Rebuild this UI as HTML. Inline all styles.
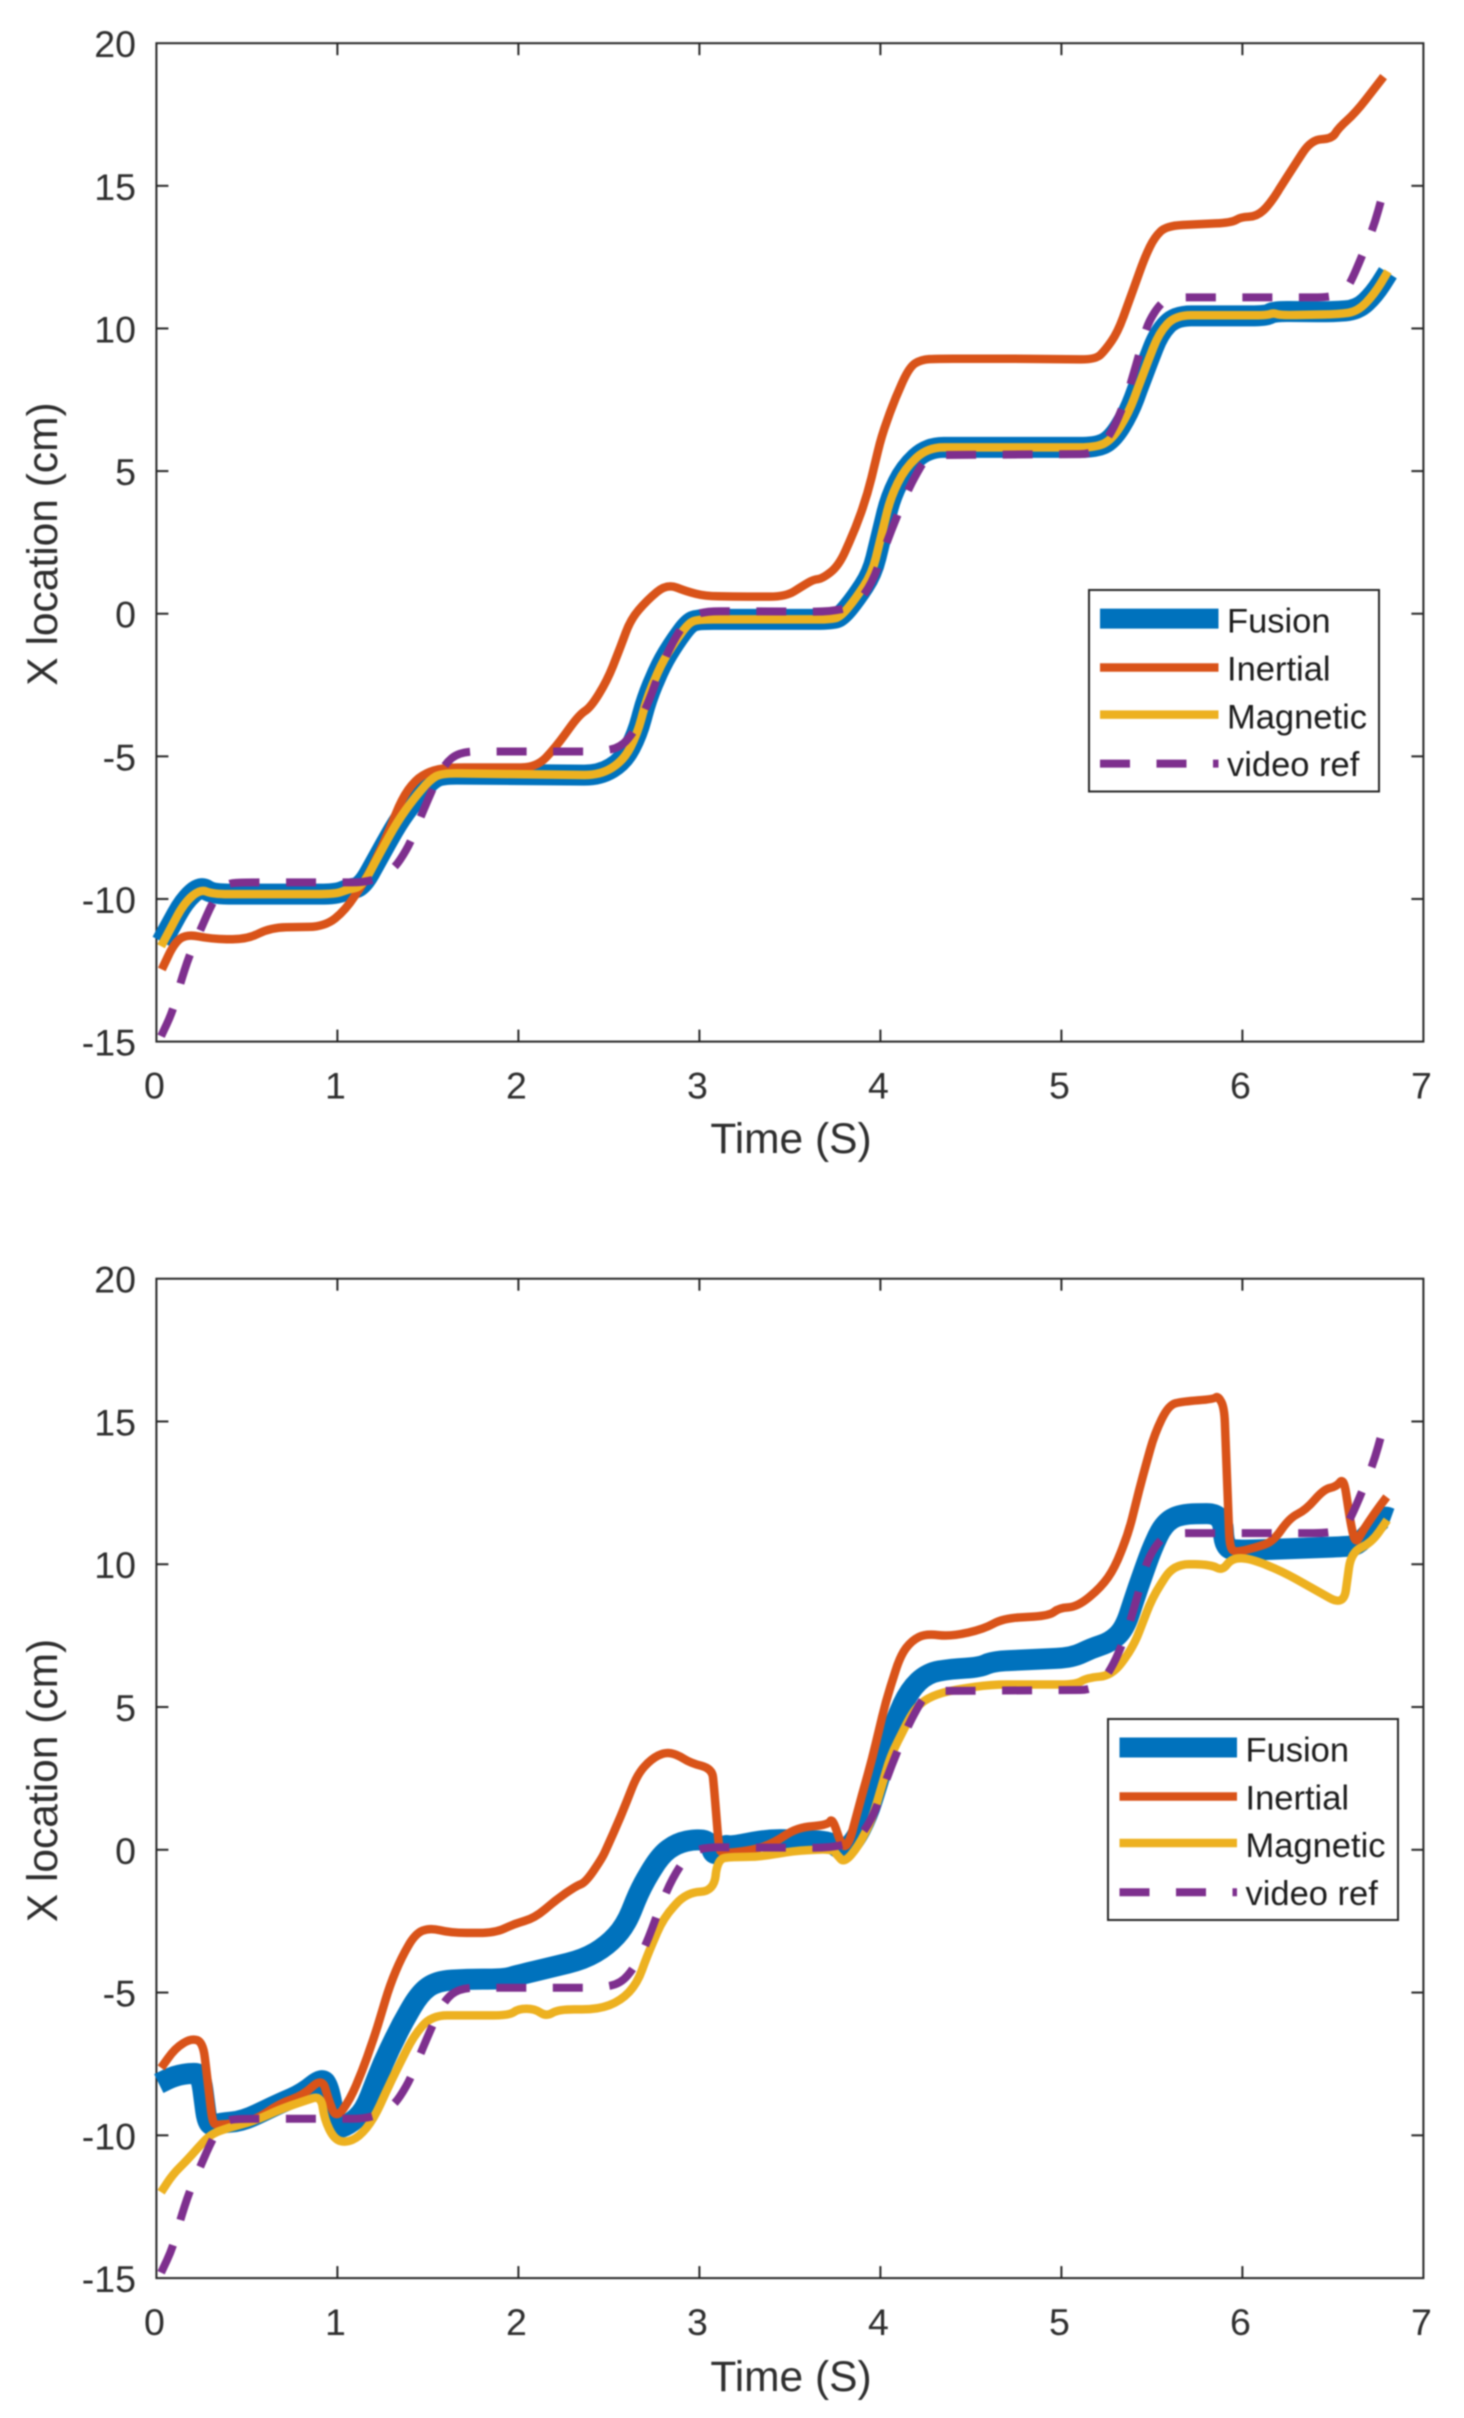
<!DOCTYPE html>
<html lang="en">
<head>
<meta charset="utf-8">
<title>X location over time: fusion, inertial, magnetic and video reference</title>
<style>
  html, body { margin: 0; padding: 0; background: #fff; }
  body { width: 1464px; height: 2418px; overflow: hidden; }
  svg { display: block; filter: blur(0.7px); }
  text { font-family: "Liberation Sans", Arial, sans-serif; fill: #2e2e2e; }
  .leg { font-size: 34.5px; fill: #1c1c1c; }
  .axis-title { font-size: 42.5px; }
  .tick-label { font-size: 37.5px; }
</style>
</head>
<body>
<svg id="figure" xmlns="http://www.w3.org/2000/svg" width="1464" height="2418" viewBox="0 0 1464 2418">
  <rect x="0" y="0" width="1464" height="2418" fill="#ffffff"/>

  <g id="plot-top">
    <g id="plot-top-axes"></g>
    <g id="plot-top-lines"></g>
    <text class="axis-title" x="791" y="1153" text-anchor="middle">Time (S)</text>
    <text class="axis-title" transform="translate(57,544) rotate(-90)" text-anchor="middle">X location (cm)</text>
    <g>
      <rect x="1089" y="590" width="290" height="201.5" fill="#ffffff" stroke="#262626" stroke-width="2"/>
      <line x1="1100" y1="618.6" x2="1218.5" y2="618.6" stroke="#0072BD" stroke-width="20"/>
      <text class="leg" x="1227" y="632.5">Fusion</text>
      <line x1="1100" y1="667.5" x2="1218.5" y2="667.5" stroke="#D95319" stroke-width="8.5"/>
      <text class="leg" x="1227" y="680.5">Inertial</text>
      <line x1="1100" y1="714.6" x2="1218.5" y2="714.6" stroke="#EDB120" stroke-width="8.5"/>
      <text class="leg" x="1227" y="728.5">Magnetic</text>
      <line x1="1100" y1="763.6" x2="1218.5" y2="763.6" stroke="#7E2F8E" stroke-width="8" stroke-dasharray="30 26.5"/>
      <text class="leg" x="1227" y="776.2">video ref</text>
    </g>
  </g>

  <g id="plot-bottom">
    <g id="plot-bottom-axes"></g>
    <g id="plot-bottom-lines"></g>
    <text class="axis-title" x="791" y="2391" text-anchor="middle">Time (S)</text>
    <text class="axis-title" transform="translate(57,1780.5) rotate(-90)" text-anchor="middle">X location (cm)</text>
    <g>
      <rect x="1108" y="1719" width="290" height="201" fill="#ffffff" stroke="#262626" stroke-width="2"/>
      <line x1="1119.5" y1="1747.5" x2="1237" y2="1747.5" stroke="#0072BD" stroke-width="20"/>
      <text class="leg" x="1245.5" y="1761.5">Fusion</text>
      <line x1="1119.5" y1="1796.5" x2="1237" y2="1796.5" stroke="#D95319" stroke-width="8.5"/>
      <text class="leg" x="1245.5" y="1809.5">Inertial</text>
      <line x1="1119.5" y1="1843" x2="1237" y2="1843" stroke="#EDB120" stroke-width="8.5"/>
      <text class="leg" x="1245.5" y="1857">Magnetic</text>
      <line x1="1119.5" y1="1892.2" x2="1237" y2="1892.2" stroke="#7E2F8E" stroke-width="8" stroke-dasharray="30 26.5"/>
      <text class="leg" x="1245.5" y="1905">video ref</text>
    </g>
  </g>
</svg>

<script>
// Tick labels (data units)
const xTicks = [0, 1, 2, 3, 4, 5, 6, 7];
const yTicks = [-15, -10, -5, 0, 5, 10, 15, 20];

// Video reference, [time s, x cm], shared by both plots
const videoRef = [[0.026,-14.81],[0.09,-13.94],[0.13,-13.0],[0.18,-12.0],[0.245,-11.06],[0.31,-10.12],[0.374,-9.45],[0.5,-9.42],[1.17,-9.42],[1.3,-9.07],[1.393,-8.18],[1.444,-7.37],[1.51,-6.37],[1.586,-5.3],[1.677,-4.83],[2.45,-4.83],[2.566,-4.69],[2.644,-4.09],[2.708,-3.28],[2.786,-1.94],[2.85,-1.0],[2.94,-0.13],[3.03,0.09],[3.72,0.07],[3.864,0.27],[3.954,1.07],[4.057,2.88],[4.135,4.09],[4.186,4.76],[4.26,5.56],[5.19,5.6],[5.28,6.37],[5.36,7.57],[5.437,9.25],[5.476,10.19],[5.553,10.93],[5.618,11.09],[6.48,11.09],[6.56,11.26],[6.597,11.6],[6.66,12.53],[6.727,13.6],[6.78,14.81],[6.79,14.95]];

// Top plot series, [time s, x cm]
const topFusion = [[0.03,-11.5],[0.155,-10.05],[0.245,-9.55],[0.31,-9.83],[0.993,-9.83],[1.06,-9.65],[1.135,-9.58],[1.225,-8.55],[1.33,-7.35],[1.42,-6.55],[1.51,-5.85],[1.575,-5.62],[2.45,-5.66],[2.58,-5.16],[2.657,-4.22],[2.708,-3.0],[2.786,-1.8],[2.863,-1.0],[2.94,-0.33],[2.99,-0.2],[3.735,-0.2],[3.786,-0.07],[3.864,0.54],[3.954,1.41],[4.057,4.09],[4.135,5.09],[4.26,5.83],[5.19,5.83],[5.28,6.1],[5.372,7.04],[5.45,8.38],[5.54,9.85],[5.63,10.44],[6.134,10.44],[6.172,10.6],[6.5,10.58],[6.637,10.65],[6.727,11.19],[6.804,11.95]];
const topInertial = [[0.03,-12.47],[0.1,-11.53],[0.17,-11.23],[0.3,-11.4],[0.5,-11.42],[0.63,-11.0],[0.93,-10.97],[1.045,-10.39],[1.17,-9.18],[1.28,-7.7],[1.355,-6.5],[1.43,-5.83],[1.51,-5.52],[1.61,-5.39],[2.1,-5.39],[2.205,-4.69],[2.335,-3.55],[2.4,-3.28],[2.49,-2.35],[2.566,-1.14],[2.62,-0.2],[2.71,0.47],[2.82,1.05],[2.93,0.78],[3.03,0.62],[3.18,0.6],[3.477,0.6],[3.57,0.97],[3.63,1.2],[3.68,1.23],[3.77,1.68],[3.864,3.02],[3.93,4.22],[4.006,6.23],[4.083,7.57],[4.16,8.65],[4.225,8.91],[4.315,8.94],[4.73,8.94],[5.19,8.91],[5.243,9.25],[5.31,9.85],[5.372,10.93],[5.463,12.53],[5.515,13.2],[5.58,13.6],[5.94,13.71],[5.99,13.9],[6.08,13.93],[6.15,14.34],[6.25,15.35],[6.38,16.62],[6.495,16.65],[6.53,17.02],[6.625,17.56],[6.78,18.83]];
const topMagnetic = [[0.026,-11.66],[0.155,-10.12],[0.245,-9.65],[0.31,-9.83],[0.993,-9.83],[1.06,-9.65],[1.135,-9.58],[1.225,-8.51],[1.33,-7.3],[1.42,-6.5],[1.51,-5.83],[1.575,-5.59],[2.45,-5.66],[2.58,-5.16],[2.657,-4.22],[2.708,-3.0],[2.786,-1.8],[2.863,-1.0],[2.94,-0.33],[2.99,-0.2],[3.735,-0.2],[3.786,-0.07],[3.864,0.54],[3.954,1.41],[4.057,4.09],[4.135,5.09],[4.26,5.83],[5.19,5.83],[5.28,6.1],[5.372,7.04],[5.45,8.38],[5.54,9.85],[5.63,10.46],[6.134,10.46],[6.172,10.55],[6.21,10.46],[6.533,10.5],[6.637,10.6],[6.727,11.19],[6.804,12.0]];

// Bottom plot series, [time s, x cm]
const bottomFusion = [[0.013,-8.19],[0.103,-7.91],[0.193,-7.82],[0.245,-7.85],[0.284,-9.71],[0.35,-9.57],[0.477,-9.5],[0.683,-8.88],[0.81,-8.53],[0.916,-7.98],[0.954,-8.33],[0.993,-9.78],[1.06,-9.64],[1.148,-9.16],[1.25,-7.5],[1.354,-6.12],[1.457,-5.01],[1.548,-4.6],[1.715,-4.53],[1.92,-4.53],[2.0,-4.39],[2.36,-3.84],[2.49,-3.36],[2.59,-2.67],[2.68,-1.28],[2.786,-0.18],[2.876,0.23],[2.98,0.37],[3.056,0.3],[3.08,-0.25],[3.134,0.17],[3.18,0.12],[3.385,0.37],[3.725,0.3],[3.786,-0.04],[3.85,0.23],[3.93,1.2],[4.006,2.77],[4.083,4.52],[4.16,5.59],[4.26,6.19],[4.39,6.33],[4.55,6.39],[4.62,6.6],[5.06,6.73],[5.167,7.06],[5.27,7.27],[5.348,7.73],[5.425,9.21],[5.5,10.55],[5.565,11.42],[5.657,11.76],[5.89,11.78],[5.9,10.55],[5.99,10.48],[6.585,10.62],[6.636,10.68],[6.7,11.09],[6.78,11.69],[6.82,11.6]];
const bottomInertial = [[0.026,-7.64],[0.103,-6.95],[0.193,-6.6],[0.258,-6.74],[0.31,-9.57],[0.335,-9.64],[0.45,-9.57],[0.555,-9.43],[0.683,-8.88],[0.81,-8.6],[0.916,-7.98],[0.95,-8.74],[0.993,-9.43],[1.07,-8.74],[1.135,-7.78],[1.212,-6.4],[1.29,-4.74],[1.354,-3.77],[1.43,-2.94],[1.51,-2.73],[1.625,-2.91],[1.87,-2.91],[1.975,-2.6],[2.09,-2.39],[2.205,-1.77],[2.32,-1.26],[2.37,-1.15],[2.46,-0.32],[2.49,0.09],[2.566,1.17],[2.657,2.64],[2.734,3.18],[2.81,3.42],[2.876,3.34],[2.95,3.04],[3.07,2.84],[3.08,2.24],[3.108,0.09],[3.12,-0.11],[3.18,-0.1],[3.3,0.0],[3.41,0.23],[3.54,0.79],[3.71,0.86],[3.735,1.13],[3.786,0.1],[3.825,0.17],[3.876,1.4],[3.954,3.18],[4.03,5.19],[4.11,6.8],[4.174,7.33],[4.25,7.57],[4.39,7.47],[4.57,7.73],[4.676,8.1],[4.934,8.2],[4.986,8.47],[5.09,8.51],[5.22,9.2],[5.295,9.88],[5.37,11.09],[5.45,13.1],[5.515,14.57],[5.592,15.58],[5.67,15.7],[5.84,15.78],[5.865,15.9],[5.9,15.5],[5.93,10.55],[5.966,10.42],[6.07,10.58],[6.17,10.79],[6.26,11.62],[6.35,11.9],[6.45,12.63],[6.52,12.72],[6.56,13.03],[6.6,11.35],[6.625,10.71],[6.663,11.15],[6.727,11.76],[6.797,12.36]];
const bottomMagnetic = [[0.026,-11.99],[0.09,-11.37],[0.168,-10.88],[0.245,-10.33],[0.297,-9.99],[0.374,-9.78],[0.54,-9.5],[0.683,-9.09],[0.81,-8.81],[0.91,-8.6],[0.928,-9.43],[0.98,-10.12],[1.045,-10.26],[1.12,-10.06],[1.2,-9.43],[1.3,-8.05],[1.42,-6.53],[1.52,-5.8],[1.95,-5.8],[2.0,-5.57],[2.09,-5.57],[2.154,-5.84],[2.22,-5.59],[2.44,-5.59],[2.566,-5.29],[2.657,-4.67],[2.708,-3.77],[2.8,-2.39],[2.93,-1.49],[3.08,-1.45],[3.1,-0.32],[3.18,-0.25],[3.335,-0.25],[3.515,-0.04],[3.735,0.03],[3.76,-0.18],[3.8,-0.46],[3.876,0.1],[3.954,1.06],[4.057,3.31],[4.186,4.92],[4.26,5.32],[4.37,5.56],[4.61,5.79],[5.08,5.79],[5.14,6.02],[5.28,6.1],[5.4,7.13],[5.5,8.81],[5.62,10.01],[5.825,9.99],[5.89,9.77],[5.94,10.21],[6.04,10.21],[6.22,9.75],[6.56,8.54],[6.6,10.42],[6.714,10.75],[6.8,11.55]];

const SVG_NS = 'http://www.w3.org/2000/svg';
const X_LEFT = 156.4;
const X_RIGHT = 1423.4;
const CORNER = 16;

function make(parent, tag, attrs) {
  const el = document.createElementNS(SVG_NS, tag);
  for (const k in attrs) el.setAttribute(k, attrs[k]);
  parent.appendChild(el);
  return el;
}

// Build a path through the points with softened corners.
function roundedPath(pts) {
  const f = n => n.toFixed(1);
  let d = 'M' + f(pts[0][0]) + ' ' + f(pts[0][1]);
  for (let i = 1; i < pts.length - 1; i++) {
    const p = pts[i - 1], c = pts[i], n = pts[i + 1];
    const d1 = Math.hypot(c[0] - p[0], c[1] - p[1]) || 1;
    const d2 = Math.hypot(n[0] - c[0], n[1] - c[1]) || 1;
    const r1 = Math.min(CORNER, d1 / 2), r2 = Math.min(CORNER, d2 / 2);
    const ax = c[0] + (p[0] - c[0]) * r1 / d1, ay = c[1] + (p[1] - c[1]) * r1 / d1;
    const bx = c[0] + (n[0] - c[0]) * r2 / d2, by = c[1] + (n[1] - c[1]) * r2 / d2;
    d += 'L' + f(ax) + ' ' + f(ay) + 'Q' + f(c[0]) + ' ' + f(c[1]) + ' ' + f(bx) + ' ' + f(by);
  }
  const last = pts[pts.length - 1];
  d += 'L' + f(last[0]) + ' ' + f(last[1]);
  return d;
}

function drawPlot(prefix, top, bottom, series) {
  const sx = t => X_LEFT + (t - 0) / 7 * (X_RIGHT - X_LEFT);
  const sy = v => bottom - (v + 15) / 35 * (bottom - top);
  const axes = document.getElementById('plot-' + prefix + '-axes');
  const lines = document.getElementById('plot-' + prefix + '-lines');
  const axisStyle = { stroke: '#262626', 'stroke-width': 2 };

  const box = make(axes, 'rect', Object.assign({ x: X_LEFT, y: top, width: X_RIGHT - X_LEFT, height: bottom - top, fill: 'none' }, axisStyle));
  
  

  xTicks.forEach(t => {
    const x = sx(t);
    if (t > 0 && t < 7) {
      const a = make(axes, 'line', Object.assign({ x1: x, x2: x, y1: bottom, y2: bottom - 12 }, axisStyle));
      
      
      const b = make(axes, 'line', Object.assign({ x1: x, x2: x, y1: top, y2: top + 12 }, axisStyle));
      
      
    }
    const label = make(axes, 'text', { x: x - 2, y: bottom + 57, 'text-anchor': 'middle', class: 'tick-label' });
    
    
    label.textContent = String(t);
  });

  yTicks.forEach(v => {
    const y = sy(v);
    if (v > -15 && v < 20) {
      const a = make(axes, 'line', Object.assign({ x1: X_LEFT, x2: X_LEFT + 12, y1: y, y2: y }, axisStyle));
      
      
      const b = make(axes, 'line', Object.assign({ x1: X_RIGHT, x2: X_RIGHT - 12, y1: y, y2: y }, axisStyle));
      
      
    }
    const label = make(axes, 'text', { x: 136, y: y + 14, 'text-anchor': 'end', class: 'tick-label' });
    
    
    label.textContent = String(v);
  });

  series.forEach(s => {
    const pts = s.data.map(p => [sx(p[0]), sy(p[1])]);
    const line = make(lines, 'path', {
      d: roundedPath(pts), fill: 'none', stroke: s.color, 'stroke-width': s.width,
      'stroke-linejoin': 'round', 'stroke-linecap': 'butt'
    });
    if (s.dash) line.setAttribute('stroke-dasharray', s.dash);
    
    
  });
}

drawPlot('top', 43.2, 1041.6, [
  { name: 'fusion', data: topFusion, color: '#0072BD', width: 21 },
  { name: 'inertial', data: topInertial, color: '#D95319', width: 8.5 },
  { name: 'magnetic', data: topMagnetic, color: '#EDB120', width: 8.5 },
  { name: 'video-ref', data: videoRef, color: '#7E2F8E', width: 8, dash: '30 26.5' }
]);
drawPlot('bottom', 1278.7, 2278.1, [
  { name: 'fusion', data: bottomFusion, color: '#0072BD', width: 21 },
  { name: 'inertial', data: bottomInertial, color: '#D95319', width: 8.5 },
  { name: 'magnetic', data: bottomMagnetic, color: '#EDB120', width: 8.5 },
  { name: 'video-ref', data: videoRef, color: '#7E2F8E', width: 8, dash: '30 26.5' }
]);
</script>
</body>
</html>
